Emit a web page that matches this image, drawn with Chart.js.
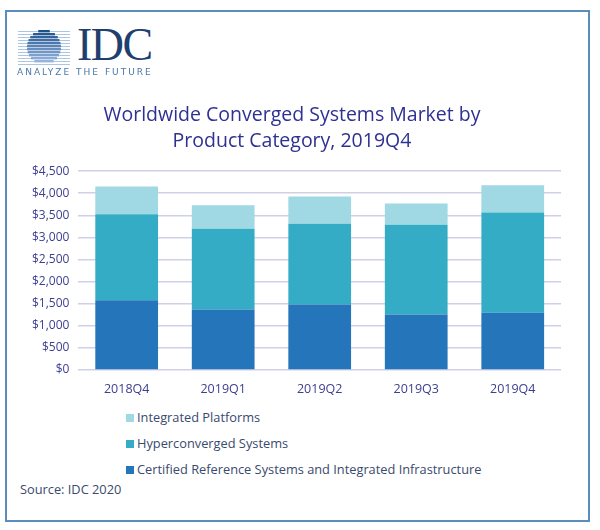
<!DOCTYPE html>
<html>
<head>
<meta charset="utf-8">
<script src="https://cdn.jsdelivr.net/npm/chart.js@4/dist/chart.umd.min.js"></script>
<style>
  html, body { margin: 0; padding: 0; background: #fff; }
  body { width: 600px; height: 530px; position: relative; overflow: hidden; font-family: "Open Sans", sans-serif; }
  #frame { position: absolute; left: 5px; top: 10px; width: 585px; height: 512px; border: 2px solid #5a8dbb; box-sizing: border-box; }
  #logo { position: absolute; left: 14px; top: 26px; }
  #idc { position: absolute; left: 77px; top: 22px; font-family: "Liberation Serif", serif; font-size: 46px; color: #1f3f6e; letter-spacing: -1.5px; line-height: 1; }
  #tag { position: absolute; left: 17px; top: 67px; font-size: 9px; color: #4a78a8; letter-spacing: 2px; font-family: "DejaVu Sans", sans-serif; }
  #wrap { position: absolute; left: 10px; top: 102px; width: 575px; height: 299px; }
  #legend { position: absolute; left: 126px; top: 406px; font-size: 12.8px; color: #3a4a6e; }
  #legend div { height: 26px; line-height: 22px; white-space: nowrap; }
  #legend span.box { display: inline-block; width: 8px; height: 8px; margin-right: 3px; vertical-align: 0px; }
  #source { position: absolute; left: 20px; top: 480px; font-size: 12.8px; color: #3a4a6e; }
</style>
</head>
<body>
<div id="frame"></div>
<canvas id="logo" width="60" height="42"></canvas>
<div id="idc">IDC</div>
<div id="tag">ANALYZE THE FUTURE</div>
<div id="wrap"><canvas id="chart"></canvas></div>
<div id="legend"></div>
<div id="source">Source: IDC 2020</div>
<script>
// data (US$ M)
const quarters = ['2018Q4', '2019Q1', '2019Q2', '2019Q3', '2019Q4'];
const certified = [1579, 1369, 1482, 1256, 1293];
const hyperconverged = [1947, 1827, 1827, 2030, 2271];
const integrated = [625, 533, 616, 481, 616];
const yTicks = [0, 500, 1000, 1500, 2000, 2500, 3000, 3500, 4000, 4500];

// IDC globe mark
const lg = document.getElementById('logo').getContext('2d');
const cx = 30, cy = 21, r = 17;
for (let i = 0; i < 12; i++) {
  const y = 5 + i * 3;
  const dy = y - cy;
  lg.fillStyle = '#a9c6e2';
  lg.fillRect(4, y, 52, 1);
  if (Math.abs(dy) < r) {
    const hw = Math.sqrt(r * r - dy * dy);
    const t = i / 11;
    lg.fillStyle = 'rgb(' + Math.round(30 + t * 130) + ',' + Math.round(80 + t * 110) + ',' + Math.round(140 + t * 90) + ')';
    lg.fillRect(cx - hw, y - 1, hw * 2, 2.4);
  }
}

const chart = new Chart(document.getElementById('chart'), {
  type: 'bar',
  data: {
    labels: quarters,
    datasets: [
      { label: 'Certified Reference Systems and Integrated Infrastructure', data: certified, backgroundColor: '#2575ba' },
      { label: 'Hyperconverged Systems', data: hyperconverged, backgroundColor: '#35acc6' },
      { label: 'Integrated Platforms', data: integrated, backgroundColor: '#a0d8e4' }
    ]
  },
  options: {
    responsive: true,
    maintainAspectRatio: false,
    animation: false,
    layout: { padding: { left: 13, right: 24, top: 0, bottom: 0 } },
    datasets: { bar: { barPercentage: 0.65, categoryPercentage: 1, borderWidth: 0 } },
    plugins: {
      legend: { display: false },
      tooltip: { enabled: false },
      title: {
        display: true,
        text: ['Worldwide Converged Systems Market by', 'Product Category, 2019Q4'],
        color: '#2e3192',
        font: { family: 'Open Sans', size: 19.5, weight: 'normal', lineHeight: 1.35 },
        padding: { top: 0, bottom: 16.5 }
      }
    },
    scales: {
      x: {
        stacked: true,
        grid: { display: false },
        border: { display: false },
        ticks: { color: '#3d4090', font: { family: 'Open Sans', size: 12.5 }, padding: 4 }
      },
      y: {
        stacked: true,
        min: 0,
        max: 4500,
        afterBuildTicks: axis => { axis.ticks = yTicks.map(v => ({ value: v })); },
        grid: { color: '#cfd0e8', lineWidth: 1.5, drawTicks: false },
        border: { display: false },
        ticks: {
          color: '#3d4090',
          font: { family: 'Open Sans', size: 12 },
          padding: 9,
          callback: v => '$' + v.toLocaleString('en-US')
        }
      }
    }
  }
});

// vertical legend, top series first
const legend = document.getElementById('legend');
chart.data.datasets.slice().reverse().forEach(ds => {
  const row = document.createElement('div');
  const box = document.createElement('span');
  box.className = 'box';
  box.style.background = ds.backgroundColor;
  row.appendChild(box);
  row.appendChild(document.createTextNode(ds.label));
  legend.appendChild(row);
});
</script>
</body>
</html>
